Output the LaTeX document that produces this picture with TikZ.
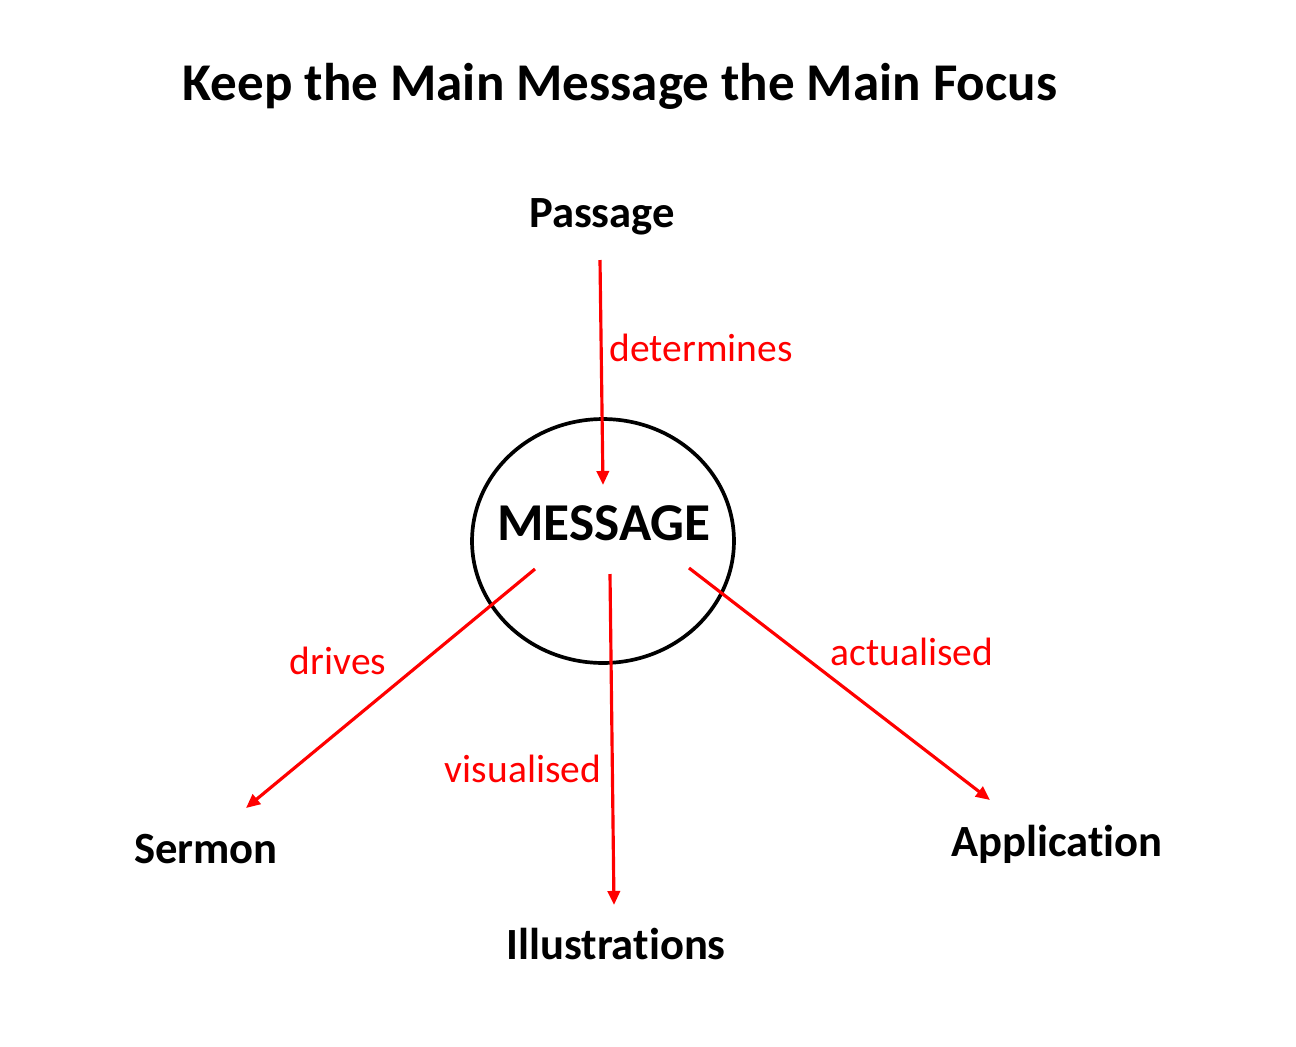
\documentclass[tikz,border=0pt]{standalone}
\usepackage{fontspec}
\setmainfont{Carlito}[Ligatures={TeX,NoCommon}]
\usetikzlibrary{arrows.meta,shapes.geometric}
\begin{document}
\begin{tikzpicture}[x=0.02cm,y=-0.02cm,
  label node/.style={font=\bfseries\fontsize{25.4}{30}\selectfont},
  verb node/.style={font=\fontsize{22.5}{27}\selectfont,text=red},
  link/.style={draw=red,line width=1.8pt,-{Triangle[length=8pt,width=7pt]}}]
  	\useasboundingbox (0,0) rectangle (1296,1046);
  	
  	\node[font=\bfseries\fontsize{30.2}{36}\selectfont] at (620,86) (title) {Keep the Main Message the Main Focus};
  	
  	\node[draw,line width=2.1pt,ellipse,inner sep=0pt,minimum width=5.24cm,minimum height=4.88cm] at (603,541) (circle) {};
  	\node[font=\bfseries\fontsize{30.3}{36}\selectfont] at (604,523) (message) {MESSAGE};
  	
  	\node[label node] at (602,217) (passage) {Passage};
  	\node[label node] at (206,849) (sermon) {Sermon};
  	\node[label node] at (616,944) (illus) {Illustrations};
  	\node[label node] at (1057,844) (appl) {Application};
  	
  	\coordinate (p1) at (600,260);
  	\coordinate (p2) at (603,485);
  	\coordinate (s1) at (535,569);
  	\coordinate (s2) at (246,808);
  	\coordinate (i1) at (610,574);
  	\coordinate (i2) at (614,905);
  	\coordinate (a1) at (689,568);
  	\coordinate (a2) at (990,800);
  	
  	\node[verb node] at (701,348) (determines) {determines};
  	\node[verb node] at (338,661) (drives) {drives};
  	\node[verb node] at (523,769) (visualised) {visualised};
  	\node[verb node] at (912,652) (actualised) {actualised};
  	
  	\draw[link] (p1) -- (p2);
  	\draw[link] (s1) -- (s2);
  	\draw[link] (i1) -- (i2);
  	\draw[link] (a1) -- (a2);
\end{tikzpicture}
\end{document}
